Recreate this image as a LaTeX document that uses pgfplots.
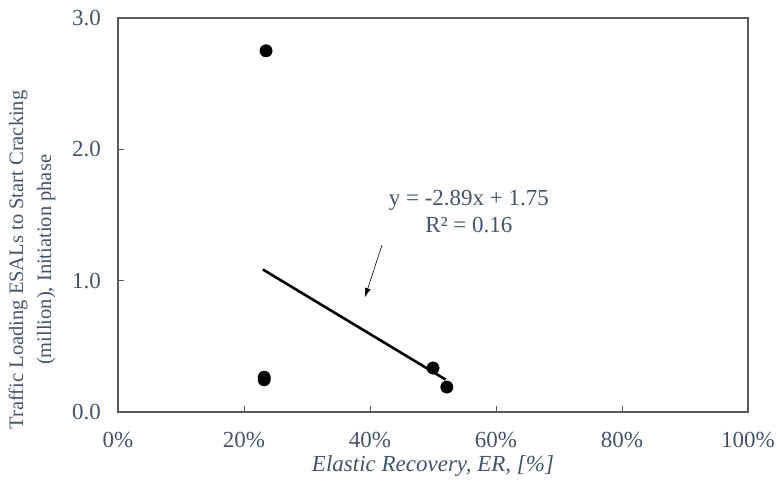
\documentclass[border=0pt]{standalone}
\usepackage{pgfplots}
\pgfplotsset{compat=1.18}
\usepackage{fontspec}
\setmainfont{Liberation Serif}
\usetikzlibrary{arrows.meta}
\definecolor{txt}{HTML}{44546A}
\definecolor{axc}{HTML}{595959}
\begin{document}
\begin{tikzpicture}[x=1pt,y=1pt]
\path[use as bounding box] (0,0) rectangle (777,480);
\begin{axis}[
  at={(118pt,68pt)}, anchor=south west,
  scale only axis, width=630pt, height=394pt,
  xmin=0, xmax=1, ymin=0, ymax=3,
  xtick={0,0.2,0.4,0.6,0.8,1},
  xticklabels={0\%,20\%,40\%,60\%,80\%,100\%},
  ytick={0,1,2,3},
  yticklabel style={/pgf/number format/fixed,/pgf/number format/precision=1,/pgf/number format/fixed zerofill},
  /pgf/number format/assume math mode=true,
  tick align=inside, xtick pos=bottom, ytick pos=left,
  major tick length=6pt,
  axis line style={axc, line width=1.1pt},
  tick style={axc, line width=0.9pt},
  ticklabel style={font=\fontsize{23}{27}\selectfont, text=txt},
  xticklabel style={anchor=center, inner sep=0pt, yshift=-28pt},
  yticklabel style={anchor=east, inner sep=0pt, xshift=-17pt},
  xlabel={\textit{Elastic Recovery, ER, [\%]}},
  xlabel style={font=\fontsize{23}{27}\selectfont, text=txt, at={(axis description cs:0.5,0)}, anchor=center, yshift=-54pt},
  ylabel={Traffic Loading ESALs to Start Cracking\\(million), Initiation phase},
  ylabel style={font=\fontsize{20.5}{28}\selectfont, text=txt, align=center, at={(axis description cs:-0.1365,0.386)}, anchor=center},
  clip=false,
]
\addplot[only marks, mark=*, mark size=6.2pt, black] coordinates {
  (0.235,2.75) (0.232,0.265) (0.232,0.245) (0.50,0.335) (0.522,0.19)
};
\addplot[black, line width=2.6pt, no marks] coordinates {(0.23,1.085) (0.52,0.247)};
\draw[black, line width=0.6pt, -{Latex[length=9pt,width=6pt]}] (axis cs:0.419,1.27) -- (axis cs:0.392,0.875);
\node[font=\fontsize{23}{27}\selectfont, text=txt, align=center, inner sep=0pt] at (axis cs:0.557,1.525) {y = -2.89x + 1.75\\R² = 0.16};
\end{axis}
\end{tikzpicture}
\end{document}
